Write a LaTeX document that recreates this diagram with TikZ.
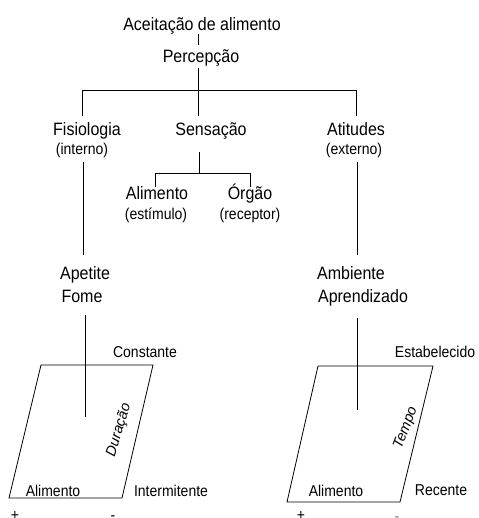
\documentclass[tikz,border=0pt]{standalone}
\usepackage{fontspec}
\setmainfont{Liberation Sans}
\begin{document}
\begin{tikzpicture}[x=1pt,y=-1pt,
  big/.style={inner sep=0pt,anchor=base,yscale=1.12,font=\fontsize{16}{19}\selectfont},
  small/.style={inner sep=0pt,anchor=base,yscale=1.12,font=\fontsize{14}{17}\selectfont},
  axis/.style={inner sep=0pt,font=\fontsize{14.5}{17}\selectfont\itshape},
  ln/.style={line width=0.8pt,black}]
\useasboundingbox (0,0) rectangle (478,518);
% texts
\node[big] (acc) at (202,31) {Aceitação de alimento};
\node[big] (perc) at (201,63) {Percepção};
\node[big] (fis) at (87,136) {Fisiologia};
\node[small] (int) at (82,155) {(interno)};
\node[big] (sens) at (211,136) {Sensação};
\node[big] (atit) at (356,136) {Atitudes};
\node[small] (ext) at (354,155) {(externo)};
\node[big] (alim) at (157,200) {Alimento};
\node[small] (estim) at (156,219) {(estímulo)};
\node[big] (org) at (250,200) {Órgão};
\node[small] (rec) at (250,219) {(receptor)};
\node[big] (apet) at (85,279) {Apetite};
\node[big] (fome) at (82,302) {Fome};
\node[big] (amb) at (351,279) {Ambiente};
\node[big] (apr) at (363,302) {Aprendizado};
\node[small] (const) at (145,357) {Constante};
\node[small] (estab) at (435,357) {Estabelecido};
\node[small] (alL) at (53,496) {Alimento};
\node[small] (interm) at (171,496) {Intermitente};
\node[small] (alR) at (336,496) {Alimento};
\node[small] (recente) at (441,495) {Recente};
\node[small] (plL) at (15,520) {+};
\node[small] (miL) at (113,520) {-};
\node[small] (plR) at (301,520) {+};
\node[small,gray] (miR) at (397,521) {-};
\node[axis,rotate=73] (dur) at (119,430) {Duração};
\node[axis,rotate=69] (tempo) at (406,428) {Tempo};
% junction coordinates
\coordinate (a1) at (198,34);
\coordinate (a2) at (198,45);
\coordinate (p1) at (198,68);
\coordinate (bl) at (82,90);
\coordinate (br) at (356,90);
\coordinate (f1) at (82,116);
\coordinate (s1) at (198,116);
\coordinate (t1) at (356,116);
\coordinate (s2) at (199,152);
\coordinate (s3) at (199,173);
\coordinate (hl) at (155,173);
\coordinate (hr) at (250,173);
\coordinate (al1) at (155,187);
\coordinate (or1) at (250,187);
\coordinate (i1) at (83,162);
\coordinate (ap1) at (83,255);
\coordinate (e1) at (357,162);
\coordinate (am1) at (357,255);
\coordinate (fm1) at (85,315);
\coordinate (c1) at (85,417);
\coordinate (ad1) at (357,318);
\coordinate (c2) at (357,410);
% connectors
\draw[ln] (a1) -- (a2);
\draw[ln] (p1) -- (s1);
\draw[ln] (f1) -- (bl) -- (br) -- (t1);
\draw[ln] (s2) -- (s3);
\draw[ln] (al1) -- (hl) -- (hr) -- (or1);
\draw[ln] (i1) -- (ap1);
\draw[ln] (e1) -- (am1);
\draw[ln] (fm1) -- (c1);
\draw[ln] (ad1) -- (c2);
% parallelograms
\draw[ln] (41,365) -- (153,365) -- (122,498) -- (9,498) -- cycle;
\draw[ln] (318,366) -- (433,366) -- (400,502) -- (287,502) -- cycle;
\end{tikzpicture}
\end{document}
